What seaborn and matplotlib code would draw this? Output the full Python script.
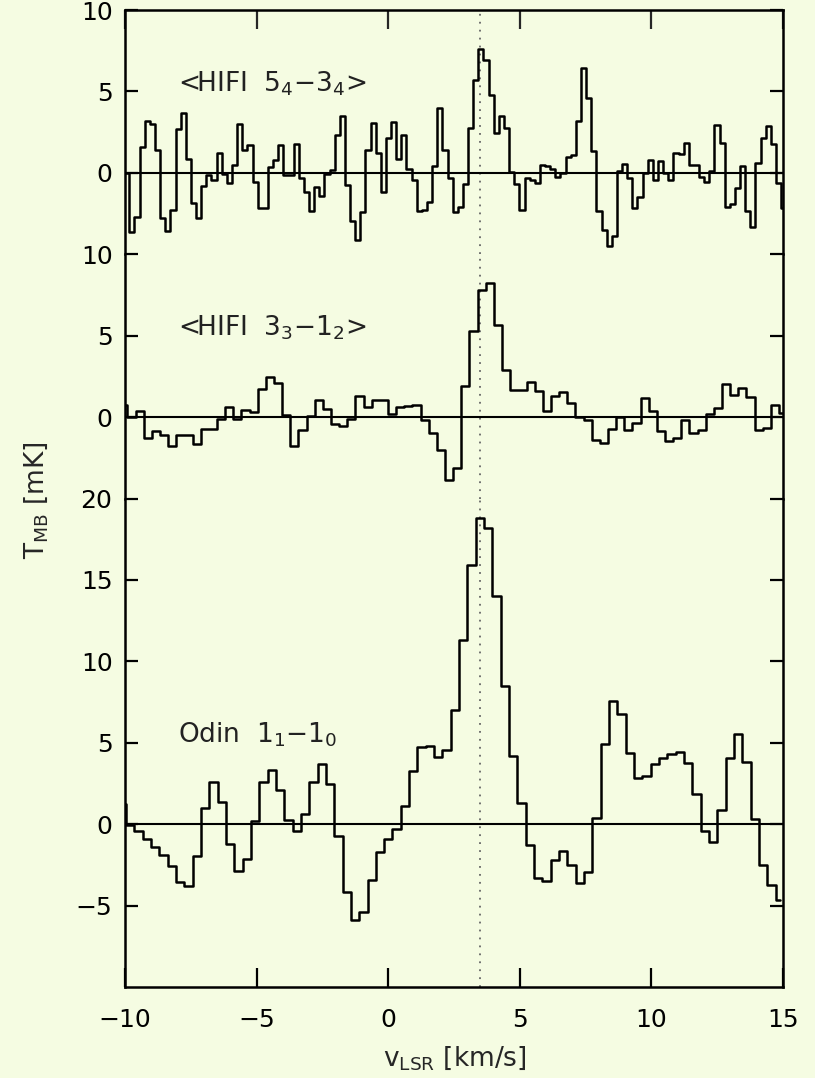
import numpy as np
import matplotlib
matplotlib.use("Agg")
import matplotlib.pyplot as plt
import seaborn as sns

# ---------------- data ----------------
# channel grids: centre of first channel and channel width (km/s)
top_v0, top_dv = -10.1275, 0.195
mid_v0, mid_dv = -10.065, 0.3095
bot_v0, bot_dv = -10.12, 0.3164

# <HIFI 5_4-3_4>  T_MB [mK]
top_T = [
    1.9, 0.0,
    -3.66, -2.74, 1.58, 3.19, 3.02, 1.38, -2.78, -3.58, -2.28, 2.72,
    3.70, 0.86, -1.85, -2.78, -0.78, -0.16, -0.47, 1.21, -0.06, -0.64,
    0.51, 2.98, 1.38, 1.69, -0.58, -2.16, -2.16, 0.35, 0.76, 1.69,
    -0.12, -0.12, 1.79, -0.31, -1.19, -2.33, -0.84, -1.40, -0.10, 0.18,
    2.35, 3.48, -0.74, -2.94, -4.14, -2.39, 1.38, 3.07, 1.23, -1.19,
    2.16, 3.13, 0.82, 2.30, 0.25, -0.43, -2.33, -2.26, -1.77, 0.41,
    4.01, 1.38, -0.33, -2.39, -2.12, -0.68, 2.78, 5.70, 7.61, 6.93,
    4.81, 2.45, 3.50, 2.78, 0.08, -0.68, -2.28, -0.33, -0.47, -0.62,
    0.49, 0.39, 0.25, -0.23, 0.0, 0.95, 1.07, 3.17, 6.42, 4.61,
    1.32, -2.37, -3.50, -4.49, -3.87, 0.14, 0.56, -0.33, -2.16, -1.50,
    -0.02, 0.76, -0.47, 0.70, 0.0, -0.43, 1.23, 1.13, 1.85, 0.49,
    0.51, -0.27, -0.58, 0.14, 2.96, 1.83, -2.12, -1.91, -0.95, 0.45,
    -2.37, -3.31, 0.60, 2.14, 2.86, 1.79, -0.62, -2.16,
]

# <HIFI 3_3-1_2>
mid_T = [
    0.76, 0.0, 0.37, -1.29, -0.88, -1.08, -1.80, -1.08, -1.08, -1.64,
    -0.72, -0.76, -0.14, 0.61, -0.10, 0.41, 0.31, 1.74, 2.45, 2.11,
    0.10, -1.80, -0.82, 0.06, 1.06, 0.51, -0.45, -0.55, -0.10, 1.29,
    0.61, 1.02, 1.02, 0.16, 0.61, 0.65, 0.76, -0.16, -0.96, -2.00,
    -3.89, -3.11, 1.88, 5.28, 7.83, 8.22, 5.66, 2.92, 1.64, 1.64,
    2.15, 1.60, 0.35, 1.27, 1.57, 0.89, 0.0, -0.20, -1.39, -1.57,
    -0.76, 0.0, -0.82, -0.37, 1.19, 0.37, -0.88, -1.49, -1.29, -0.20,
    -0.96, -0.78, 0.20, 0.57, 2.04, 1.33, 1.80, 1.23, -0.78, -0.67,
    0.72, 0.27,
]

# Odin 1_1-1_0
bot_T = [
    1.23, -0.06, -0.45, -0.92, -1.43, -1.90, -2.56, -3.54, -3.78, -1.98,
    0.98, 2.56, 1.37, -1.19, -2.86, -2.15, 0.20, 2.62, 3.31, 2.09,
    0.27, -0.41, 0.61, 2.60, 3.68, 2.49, -0.72, -4.15, -5.89, -5.38,
    -3.44, -1.68, -0.92, -0.31, 1.12, 3.27, 4.74, 4.81, 4.13, 4.54,
    6.99, 11.31, 15.91, 18.81, 18.16, 14.01, 8.49, 4.19, 1.29, -1.29,
    -3.31, -3.48, -2.21, -1.64, -2.52, -3.64, -2.92, 0.37, 4.91, 7.57,
    6.79, 4.34, 2.86, 2.97, 3.68, 4.09, 4.29, 4.44, 3.78, 1.88,
    -0.41, -1.08, 0.86, 4.09, 5.52, 3.84, 0.31, -2.52, -3.74, -4.66,
]

panel_labels = ["<HIFI  5$_4$\u22123$_4$>", "<HIFI  3$_3$\u22121$_2$>", "Odin  1$_1$\u22121$_0$"]
ylims = [(-5, 10), (-5, 10), (-10, 20)]
yticks = [[0, 5, 10], [0, 5, 10], [-5, 0, 5, 10, 15, 20]]
xticks = [-10, -5, 0, 5, 10, 15]
xlim = (-10, 15)
v_ref = 3.5
xlabel = "v$_{\\rm LSR}$ [km/s]"
ylabel = "T$_{\\rm MB}$ [mK]"

# ---------------- style ----------------
bg = "#f5fce2"
sns.set_style("ticks")
plt.rcParams["font.family"] = ["DejaVu Sans"]
plt.rcParams["mathtext.fontset"] = "dejavusans"
plt.rcParams["axes.unicode_minus"] = True

fig = plt.figure(figsize=(8.15, 10.78), dpi=100, facecolor=bg)
gs = fig.add_gridspec(3, 1, height_ratios=[15, 15, 30], hspace=0,
                      left=125 / 815, right=783 / 815,
                      top=1 - 10 / 1078, bottom=1 - 987 / 1078)

series = [
    (top_v0, top_dv, top_T),
    (mid_v0, mid_dv, mid_T),
    (bot_v0, bot_dv, bot_T),
]

axes = []
for i, (v0, dv, T) in enumerate(series):
    ax = fig.add_subplot(gs[i])
    axes.append(ax)
    ax.set_facecolor(bg)
    v = v0 + dv * np.arange(len(T))
    ax.axhline(0, color="black", lw=1.5, zorder=2)
    ax.axvline(v_ref, color="#666666", lw=1.3, dashes=(1, 3.4), zorder=1)
    sns.lineplot(x=v, y=np.asarray(T), ax=ax, color="black", linewidth=1.8,
                 drawstyle="steps-mid", estimator=None, sort=False, zorder=3)
    ax.set_xlim(*xlim)
    ax.set_ylim(*ylims[i])
    ax.set_xlabel("")
    ax.set_ylabel("")
    ax.set_yticks(yticks[i])
    ax.set_xticks(xticks)
    for s in ax.spines.values():
        s.set_linewidth(1.8)
        s.set_color("black")
    ax.tick_params(axis="y", direction="in", length=9.5, width=1.6,
                   left=True, right=True, labelsize=18, pad=9, colors="black")
    if i == 0:
        ax.spines["bottom"].set_visible(False)
        ax.tick_params(axis="x", direction="in", length=14, width=1.6,
                       top=True, bottom=False, labelbottom=False)
    elif i == 1:
        ax.spines["bottom"].set_visible(False)
        ax.spines["top"].set_visible(False)
        ax.tick_params(axis="x", top=False, bottom=False, labelbottom=False)
    else:
        ax.spines["top"].set_visible(False)
        ax.tick_params(axis="x", direction="in", length=14, width=1.6,
                       top=False, bottom=True, labelbottom=True,
                       labelsize=18, pad=15, colors="black")
    ax.text(-8.0, 5.0, panel_labels[i], fontsize=19, va="baseline", ha="left",
            color="#222222")

fig.text(455 / 815, 1 - 1058 / 1078, xlabel, fontsize=19, ha="center", va="center")
fig.text(36 / 815, 1 - 500 / 1078, ylabel, fontsize=19, ha="center", va="center",
         rotation=90)

fig.savefig("out.png", dpi=100, facecolor=bg)
